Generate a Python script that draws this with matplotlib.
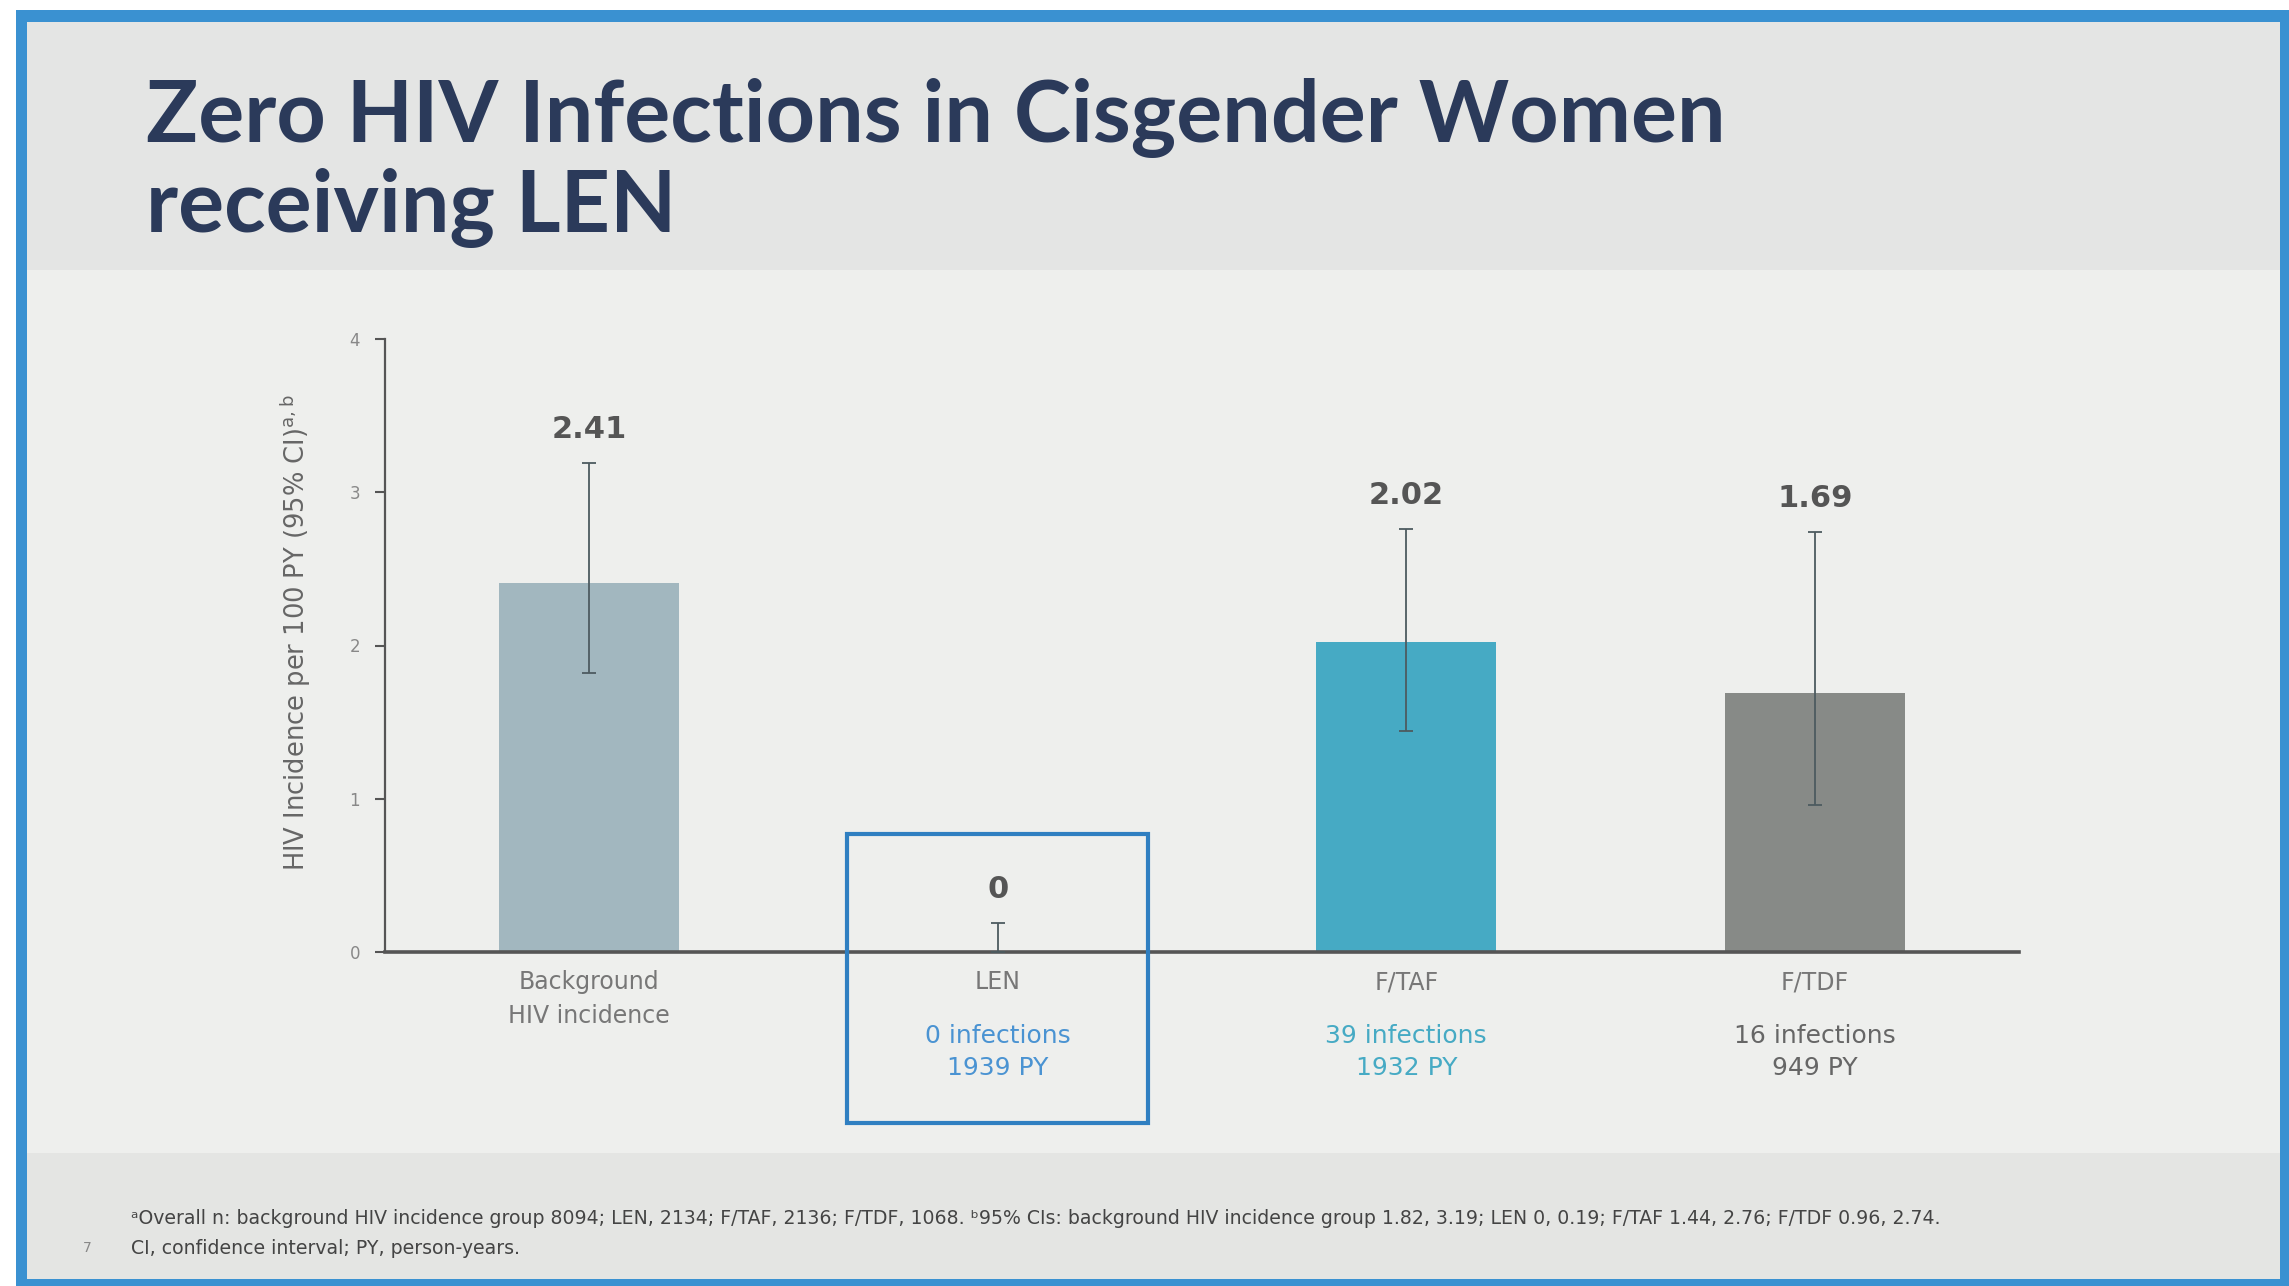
import matplotlib.pyplot as plt
from matplotlib.patches import Rectangle
import numpy as np

# data
groups = ["Background\nHIV incidence", "LEN", "F/TAF", "F/TDF"]
incidence = [2.41, 0.0, 2.02, 1.69]
ci_low = [1.82, 0.0, 1.44, 0.96]
ci_high = [3.19, 0.19, 2.76, 2.74]
value_labels = ["2.41", "0", "2.02", "1.69"]
sub_labels = ["", "0 infections\n1939 PY", "39 infections\n1932 PY", "16 infections\n949 PY"]

bar_colors = ["#a2b7bf", "#a2b7bf", "#46aac4", "#878a87"]
sub_colors = ["#777777", "#4a93d2", "#46aac4", "#666666"]

title = "Zero HIV Infections in Cisgender Women\nreceiving LEN"
ylabel = r"HIV Incidence per 100 PY (95% CI)$^{\mathrm{a,b}}$"
foot1 = ("\u1d43Overall n: background HIV incidence group 8094; LEN, 2134; F/TAF, 2136; F/TDF, 1068. "
         "\u1d4795% CIs: background HIV incidence group 1.82, 3.19; LEN 0, 0.19; F/TAF 1.44, 2.76; F/TDF 0.96, 2.74.")
foot2 = "CI, confidence interval; PY, person-years."

W, H = 2289, 1286
fig = plt.figure(figsize=(W / 100, H / 100), dpi=100)
fig.patch.set_facecolor("white")

def px_rect(x0, y0, x1, y1, color):
    # rectangle in pixel coords (origin top-left), kept behind the axes
    fig.patches.append(Rectangle((x0 / W, 1 - y1 / H), (x1 - x0) / W, (y1 - y0) / H,
                                 transform=fig.transFigure, facecolor=color, edgecolor="none", zorder=-10))

# slide frame and bands
px_rect(16, 10, W, H, "#3a91d1")
px_rect(27, 22, 2280, 1279, "#eeefed")
px_rect(27, 22, 2280, 270, "#e4e5e4")
px_rect(27, 1153, 2280, 1279, "#e4e5e3")

fig.text(146 / W, 1 - 163 / H, title, fontsize=62, fontweight="bold", color="#2b3a5a",
         family=["Lato", "DejaVu Sans"], va="center", ha="left", linespacing=1.17)

ax = fig.add_axes([385 / W, 1 - 952 / H, (2019 - 385) / W, (952 - 339) / H])
ax.set_facecolor("none")

x = np.arange(len(groups))
heights = np.array(incidence)
err = [heights - np.array(ci_low), np.array(ci_high) - heights]
ax.bar(x, heights, width=0.44, color=bar_colors, zorder=2)
ax.errorbar(x, heights, yerr=err, fmt="none", ecolor="#4d5b60", elinewidth=1.3,
            capsize=5, capthick=1.3, zorder=3)

for xi, top, lab in zip(x, ci_high, value_labels):
    ax.annotate(lab, (xi, top), xytext=(0, 24), textcoords="offset points",
                ha="center", va="center", fontsize=22, fontweight="bold", color="#555555",
                family=["DejaVu Sans"])

ax.set_xlim(-0.5, 3.5)
ax.set_ylim(0, 4)
ax.set_yticks([0, 1, 2, 3, 4])
ax.tick_params(axis="y", length=7, width=1.5, color="#555555", labelsize=12,
               labelcolor="#888888", pad=11)
ax.set_xticks(x)
ax.set_xticklabels(groups, fontsize=17, color="#777777", family=["DejaVu Sans"],
                   linespacing=1.5)
ax.tick_params(axis="x", length=0, pad=13)

for s in ["top", "right"]:
    ax.spines[s].set_visible(False)
ax.spines["left"].set_color("#555555")
ax.spines["left"].set_linewidth(1.6)
ax.spines["bottom"].set_color("#555555")
ax.spines["bottom"].set_linewidth(2.6)

ax.set_ylabel(ylabel, fontsize=18.5, color="#666666", family=["DejaVu Sans"])
ax.yaxis.set_label_coords(-0.044, 0.52)

xt = ax.get_xaxis_transform()
for xi, lab, c in zip(x, sub_labels, sub_colors):
    if lab:
        ax.text(xi, -0.163, lab, transform=xt, ha="center", va="center", fontsize=18,
                color=c, family=["DejaVu Sans"], linespacing=1.45)

# highlight box around LEN
len_i = groups.index("LEN")
ax.add_patch(Rectangle((len_i - 0.368, -0.279), 0.736, 0.472, transform=xt,
                       fill=False, edgecolor="#2f7fc1", linewidth=3, clip_on=False, zorder=4))

fig.text(131 / W, 1 - 1218 / H, foot1, fontsize=13.6, color="#444444",
         family=["DejaVu Sans"], va="center", ha="left")
fig.text(131 / W, 1 - 1248 / H, foot2, fontsize=13.6, color="#444444",
         family=["DejaVu Sans"], va="center", ha="left")
fig.text(83 / W, 1 - 1248 / H, "7", fontsize=10, color="#888888", va="center", ha="left")

fig.savefig("out.png", dpi=100, facecolor=fig.get_facecolor())
